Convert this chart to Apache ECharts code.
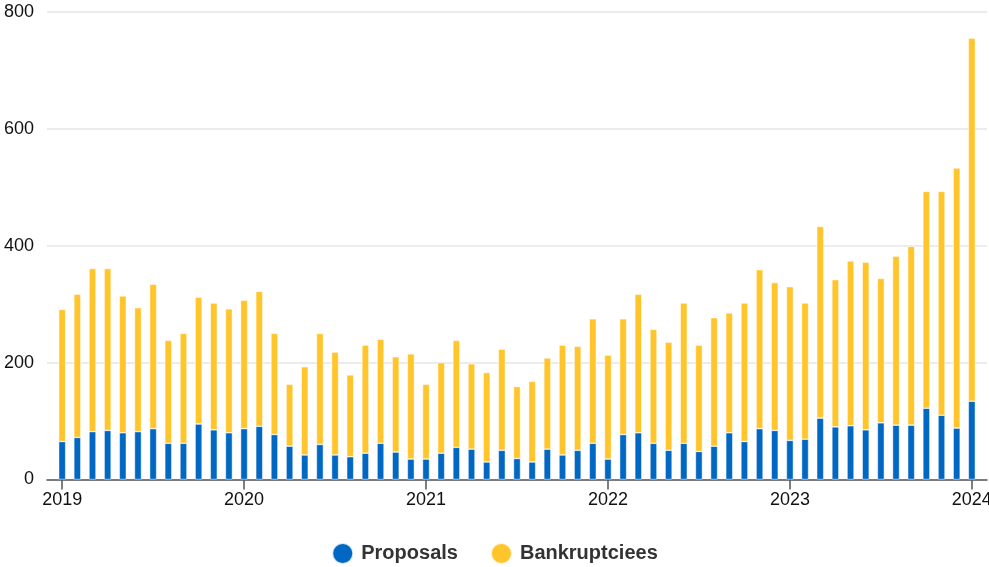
<!DOCTYPE html>
<html>
<head>
<meta charset="utf-8">
<script src="https://cdn.jsdelivr.net/npm/echarts@6/dist/echarts.min.js"></script>
<style>html,body{margin:0;padding:0;background:#fff}#c{width:989px;height:567px}</style>
</head>
<body>
<div id="c"></div>
<script>
var months = [
 '2019-01','2019-02','2019-03','2019-04','2019-05','2019-06','2019-07','2019-08','2019-09','2019-10','2019-11','2019-12',
 '2020-01','2020-02','2020-03','2020-04','2020-05','2020-06','2020-07','2020-08','2020-09','2020-10','2020-11','2020-12',
 '2021-01','2021-02','2021-03','2021-04','2021-05','2021-06','2021-07','2021-08','2021-09','2021-10','2021-11','2021-12',
 '2022-01','2022-02','2022-03','2022-04','2022-05','2022-06','2022-07','2022-08','2022-09','2022-10','2022-11','2022-12',
 '2023-01','2023-02','2023-03','2023-04','2023-05','2023-06','2023-07','2023-08','2023-09','2023-10','2023-11','2023-12',
 '2024-01'
];
var proposals = [
 65,72,82,84,80,82,87,62,62,95,85,80,
 87,91,77,57,42,60,42,39,45,62,47,35,
 35,45,55,52,30,50,36,30,52,42,50,62,
 35,77,80,62,50,62,48,57,80,65,87,84,
 67,69,105,90,92,85,97,93,93,122,110,88,
 134
];
var bankruptcies = [
 226,245,279,277,234,212,247,176,188,217,217,212,
 220,231,173,106,151,190,176,140,185,178,163,180,
 128,155,183,146,153,173,123,138,156,188,178,213,
 178,198,237,195,185,240,182,220,205,237,272,253,
 263,233,328,252,282,287,247,289,306,371,383,445,
 621
];
var yTicks = [0,200,400,600,800];

var cats = [''].concat(months).concat(['']);
function pad(a){ return ['-'].concat(a).concat(['-']); }
function isYearStart(i){ return i > 0 && i <= months.length && (i - 1) % 12 === 0; }

var chart = echarts.init(document.getElementById('c'), null, {renderer:'canvas'});
var font = "'Liberation Sans', Arial, Helvetica, sans-serif";
chart.setOption({
  animation: false,
  textStyle: {fontFamily: font},
  grid: {left: 47, right: 2, top: 12, bottom: 87.5, containLabel: false, outerBoundsMode: 'none'},
  legend: {
    top: 537, left: 'center', icon: 'circle', itemWidth: 21, itemHeight: 21, itemGap: 32,
    textStyle: {fontFamily: font, fontSize: 20, fontWeight: 'bold', color: '#333', padding: [0,0,0,3]},
    data: ['Proposals','Bankruptciees']
  },
  xAxis: {
    type: 'category', data: cats, boundaryGap: false,
    axisLine: {lineStyle: {color: '#555', width: 1.5}},
    axisTick: {show: true, length: 10, interval: function(i){ return isYearStart(i); }, lineStyle: {color: '#555', width: 1.5}},
    axisLabel: {interval: function(i){ return isYearStart(i); }, formatter: function(v){ return v.slice(0,4); },
      fontSize: 18, color: '#111', margin: 12, fontFamily: font},
    splitLine: {show: false}
  },
  yAxis: {
    type: 'value', min: yTicks[0], max: yTicks[yTicks.length-1], interval: 200,
    axisLine: {show: false}, axisTick: {show: false},
    axisLabel: {fontSize: 18, color: '#111', margin: 13, fontFamily: font},
    splitLine: {lineStyle: {color: '#e6e6e6', width: 1.5}}
  },
  series: [
    {name: 'Proposals', type: 'bar', stack: 'a', barWidth: 7, data: pad(proposals),
     itemStyle: {color: '#0067c3', borderColor: 'rgba(255,255,255,0.8)', borderWidth: 0.6}},
    {name: 'Bankruptciees', type: 'bar', stack: 'a', barWidth: 7, data: pad(bankruptcies),
     itemStyle: {color: '#ffc52b', borderColor: 'rgba(255,255,255,0.8)', borderWidth: 0.6}}
  ]
});
</script>
</body>
</html>
